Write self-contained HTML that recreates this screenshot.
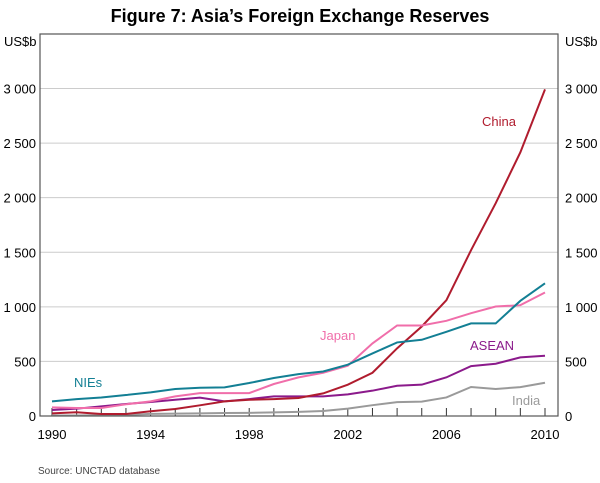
<!DOCTYPE html>
<html><head><meta charset="utf-8"><style>
body{margin:0;background:#fff;width:600px;height:478px;overflow:hidden;font-family:"Liberation Sans",Arial,sans-serif}
</style></head><body>
<svg id="chart" width="600" height="478" xmlns="http://www.w3.org/2000/svg" font-family="Liberation Sans, Arial, sans-serif">
<text x="300" y="22" text-anchor="middle" font-size="18" font-weight="bold">Figure 7: Asia’s Foreign Exchange Reserves</text>
<text x="4" y="46" font-size="13">US$b</text>
<text x="565" y="46" font-size="13">US$b</text>
<g id="grid"></g><g id="ticks"></g><g id="lines"></g>
<rect x="40" y="34" width="518" height="382" fill="none" stroke="#555" stroke-width="1.2"/>
<text x="482" y="126" font-size="13" fill="#b01c2e">China</text>
<text x="320" y="340" font-size="13" fill="#f06eaa">Japan</text>
<text x="470" y="350" font-size="13" fill="#8b1a8b">ASEAN</text>
<text x="74" y="387" font-size="13" fill="#137f94">NIEs</text>
<text x="512" y="405" font-size="13" fill="#9a9a9a">India</text>
<text x="38" y="474" font-size="10" fill="#444">Source:  UNCTAD database</text>
</svg>
<script>
const years=[1990,1991,1992,1993,1994,1995,1996,1997,1998,1999,2000,2001,2002,2003,2004,2005,2006,2007,2008,2009,2010];
const yTicks=[0,500,1000,1500,2000,2500,3000];
const yTickLabels=["0","500","1 000","1 500","2 000","2 500","3 000"];
const xTickLabels=[1990,1994,1998,2002,2006,2010];
const china=[24,34,18,18,43,64,98,134,149,155,165,207,287,396,620,820,1061,1519,1949,2415,2992];
const japan=[79,73,73,107,134,180,210,210,210,293,354,396,460,665,829,829,872,942,1003,1015,1131];
const nies=[134,155,170,192,216,247,259,262,302,348,384,408,470,573,674,698,771,848,848,1055,1216];
const asean=[55,67,88,110,128,149,168,134,155,180,180,180,198,232,277,287,354,457,479,537,552];
const india=[5,5,8,10,20,22,24,27,29,33,38,46,68,99,127,132,170,266,247,265,305];
const NS="http://www.w3.org/2000/svg";
const x=v=>52+(v-1990)*(545-52)/20;
const y=v=>416-v*(416-88.5)/3000;
function mk(t,a,p){const e=document.createElementNS(NS,t);for(const k in a)e.setAttribute(k,a[k]);document.getElementById(p).appendChild(e);return e;}
yTicks.forEach((v,i)=>{
 if(v>0){const g=mk('line',{x1:40,x2:558,y1:y(v),y2:y(v),stroke:'#ccc','stroke-width':1},'grid');
 
 }
 const l=mk('text',{x:36,y:y(v)+5,'text-anchor':'end','font-size':13},'ticks');l.textContent=yTickLabels[i];
 
 
 const r=mk('text',{x:565,y:y(v)+5,'font-size':13},'ticks');r.textContent=yTickLabels[i];
 
 
});
years.forEach(yr=>{const t=mk('line',{x1:x(yr),x2:x(yr),y1:408,y2:416,stroke:'#333','stroke-width':1},'ticks');
 
 });
xTickLabels.forEach(yr=>{const t=mk('text',{x:x(yr),y:439,'text-anchor':'middle','font-size':13},'ticks');t.textContent=yr;
 
 });
const series=[["india",india,"#9a9a9a"],["asean",asean,"#8b1a8b"],["china",china,"#b01c2e"],["japan",japan,"#f06eaa"],["nies",nies,"#137f94"]];
series.forEach(([n,d,c])=>{const p=mk('polyline',{points:d.map((v,i)=>x(years[i])+','+y(v)).join(' '),fill:'none',stroke:c,'stroke-width':2},'lines');
 
 });
</script>
</body></html>
